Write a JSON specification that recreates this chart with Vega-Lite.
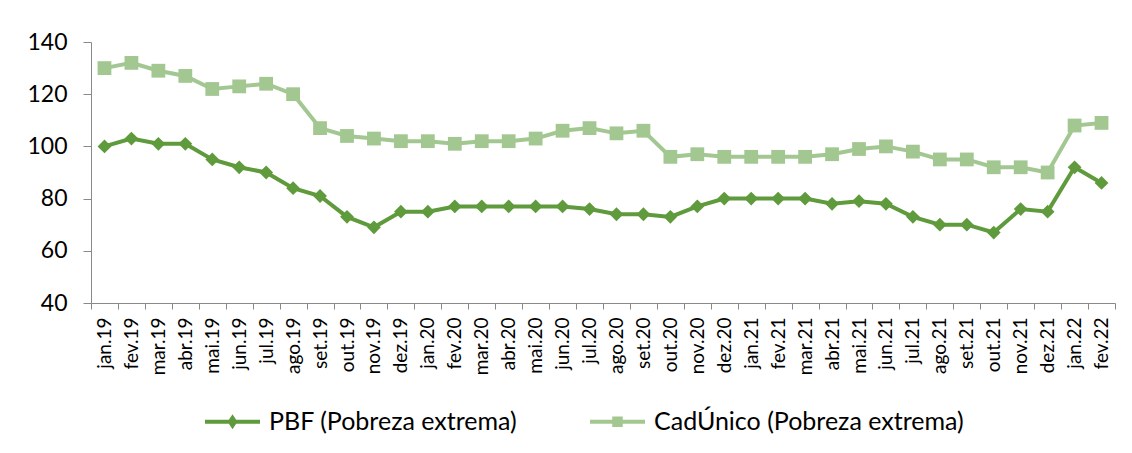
{
  "$schema": "https://vega.github.io/schema/vega-lite/v6.json",
  "width": 1024,
  "height": 261,
  "autosize": {"type": "none"},
  "padding": {"left": 91, "top": 42, "right": 17, "bottom": 150},
  "background": "white",
  "config": {
    "view": {"stroke": null},
    "font": "Lato",
    "axis": {"domainColor": "#898989", "tickColor": "#898989", "labelColor": "#000000", "grid": false, "title": null}
  },
  "data": {
    "values": [
      {"m": "jan.19", "PBF (Pobreza extrema)": 100, "CadÚnico (Pobreza extrema)": 130},
      {"m": "fev.19", "PBF (Pobreza extrema)": 103, "CadÚnico (Pobreza extrema)": 132},
      {"m": "mar.19", "PBF (Pobreza extrema)": 101, "CadÚnico (Pobreza extrema)": 129},
      {"m": "abr.19", "PBF (Pobreza extrema)": 101, "CadÚnico (Pobreza extrema)": 127},
      {"m": "mai.19", "PBF (Pobreza extrema)": 95, "CadÚnico (Pobreza extrema)": 122},
      {"m": "jun.19", "PBF (Pobreza extrema)": 92, "CadÚnico (Pobreza extrema)": 123},
      {"m": "jul.19", "PBF (Pobreza extrema)": 90, "CadÚnico (Pobreza extrema)": 124},
      {"m": "ago.19", "PBF (Pobreza extrema)": 84, "CadÚnico (Pobreza extrema)": 120},
      {"m": "set.19", "PBF (Pobreza extrema)": 81, "CadÚnico (Pobreza extrema)": 107},
      {"m": "out.19", "PBF (Pobreza extrema)": 73, "CadÚnico (Pobreza extrema)": 104},
      {"m": "nov.19", "PBF (Pobreza extrema)": 69, "CadÚnico (Pobreza extrema)": 103},
      {"m": "dez.19", "PBF (Pobreza extrema)": 75, "CadÚnico (Pobreza extrema)": 102},
      {"m": "jan.20", "PBF (Pobreza extrema)": 75, "CadÚnico (Pobreza extrema)": 102},
      {"m": "fev.20", "PBF (Pobreza extrema)": 77, "CadÚnico (Pobreza extrema)": 101},
      {"m": "mar.20", "PBF (Pobreza extrema)": 77, "CadÚnico (Pobreza extrema)": 102},
      {"m": "abr.20", "PBF (Pobreza extrema)": 77, "CadÚnico (Pobreza extrema)": 102},
      {"m": "mai.20", "PBF (Pobreza extrema)": 77, "CadÚnico (Pobreza extrema)": 103},
      {"m": "jun.20", "PBF (Pobreza extrema)": 77, "CadÚnico (Pobreza extrema)": 106},
      {"m": "jul.20", "PBF (Pobreza extrema)": 76, "CadÚnico (Pobreza extrema)": 107},
      {"m": "ago.20", "PBF (Pobreza extrema)": 74, "CadÚnico (Pobreza extrema)": 105},
      {"m": "set.20", "PBF (Pobreza extrema)": 74, "CadÚnico (Pobreza extrema)": 106},
      {"m": "out.20", "PBF (Pobreza extrema)": 73, "CadÚnico (Pobreza extrema)": 96},
      {"m": "nov.20", "PBF (Pobreza extrema)": 77, "CadÚnico (Pobreza extrema)": 97},
      {"m": "dez.20", "PBF (Pobreza extrema)": 80, "CadÚnico (Pobreza extrema)": 96},
      {"m": "jan.21", "PBF (Pobreza extrema)": 80, "CadÚnico (Pobreza extrema)": 96},
      {"m": "fev.21", "PBF (Pobreza extrema)": 80, "CadÚnico (Pobreza extrema)": 96},
      {"m": "mar.21", "PBF (Pobreza extrema)": 80, "CadÚnico (Pobreza extrema)": 96},
      {"m": "abr.21", "PBF (Pobreza extrema)": 78, "CadÚnico (Pobreza extrema)": 97},
      {"m": "mai.21", "PBF (Pobreza extrema)": 79, "CadÚnico (Pobreza extrema)": 99},
      {"m": "jun.21", "PBF (Pobreza extrema)": 78, "CadÚnico (Pobreza extrema)": 100},
      {"m": "jul.21", "PBF (Pobreza extrema)": 73, "CadÚnico (Pobreza extrema)": 98},
      {"m": "ago.21", "PBF (Pobreza extrema)": 70, "CadÚnico (Pobreza extrema)": 95},
      {"m": "set.21", "PBF (Pobreza extrema)": 70, "CadÚnico (Pobreza extrema)": 95},
      {"m": "out.21", "PBF (Pobreza extrema)": 67, "CadÚnico (Pobreza extrema)": 92},
      {"m": "nov.21", "PBF (Pobreza extrema)": 76, "CadÚnico (Pobreza extrema)": 92},
      {"m": "dez.21", "PBF (Pobreza extrema)": 75, "CadÚnico (Pobreza extrema)": 90},
      {"m": "jan.22", "PBF (Pobreza extrema)": 92, "CadÚnico (Pobreza extrema)": 108},
      {"m": "fev.22", "PBF (Pobreza extrema)": 86, "CadÚnico (Pobreza extrema)": 109}
    ]
  },
  "transform": [
    {"fold": ["PBF (Pobreza extrema)", "CadÚnico (Pobreza extrema)"], "as": ["series", "v"]}
  ],
  "encoding": {
    "x": {
      "field": "m", "type": "ordinal", "sort": null,
      "scale": {"type": "band", "paddingInner": 0, "paddingOuter": 0},
      "axis": {"labelAngle": -90, "labelAlign": "right", "labelBaseline": "middle", "tickBand": "extent", "tickSize": 6, "labelPadding": 8, "labelFontSize": 19}
    },
    "y": {
      "field": "v", "type": "quantitative",
      "scale": {"domain": [40, 140], "nice": false, "zero": false},
      "axis": {"values": [40, 60, 80, 100, 120, 140], "tickSize": 8, "labelPadding": 16, "labelFontSize": 23}
    },
    "color": {
      "field": "series", "type": "nominal",
      "scale": {"domain": ["PBF (Pobreza extrema)", "CadÚnico (Pobreza extrema)"], "range": ["#5f9a3c", "#a2c791"]},
      "legend": {
        "title": null, "orient": "none", "direction": "horizontal", "legendX": 114, "legendY": 352,
        "labelFontSize": 25, "labelColor": "#000000", "labelLimit": 0, "symbolSize": 3025, "labelOffset": 9, "columnPadding": 72,
        "encode": {
          "symbols": {
            "update": {
              "shape": {"signal": "datum.value === 'PBF (Pobreza extrema)' ? 'M-1,-0.075H1V0.075H-1Z M0,-0.27L0.18,0L0,0.27L-0.18,0Z' : 'M-1,-0.075H1V0.075H-1Z M-0.19,-0.19H0.19V0.19H-0.19Z'"},
              "fill": {"scale": "color", "field": "value"},
              "stroke": {"value": "transparent"},
              "strokeWidth": {"value": 0},
              "opacity": {"value": 1}
            }
          }
        }
      }
    }
  },
  "layer": [
    {"mark": {"type": "line", "strokeWidth": 4}},
    {
      "transform": [{"filter": "datum.series === 'PBF (Pobreza extrema)'"}],
      "mark": {"type": "point", "filled": true, "opacity": 1, "shape": "diamond", "size": 190}
    },
    {
      "transform": [{"filter": "datum.series === 'CadÚnico (Pobreza extrema)'"}],
      "mark": {"type": "point", "filled": true, "opacity": 1, "shape": "square", "size": 190}
    }
  ]
}
